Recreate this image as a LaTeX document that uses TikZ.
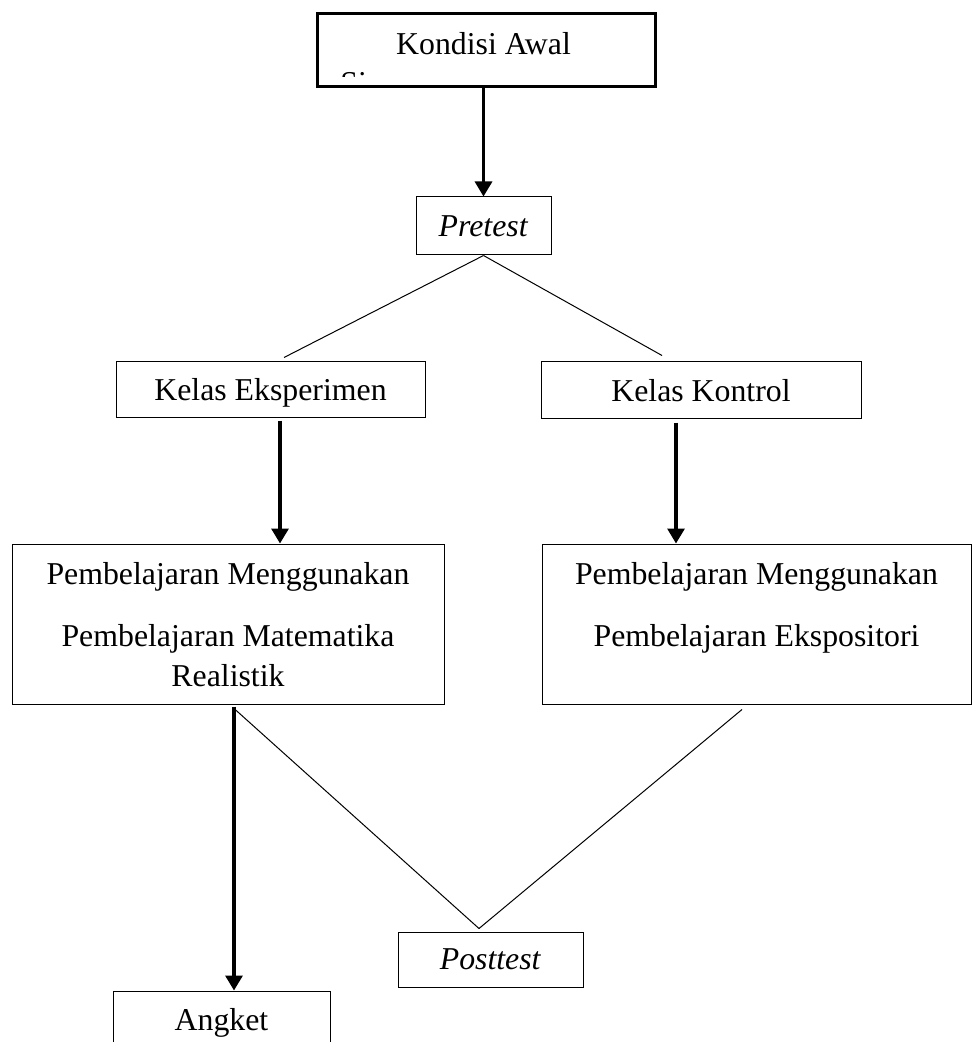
\documentclass[tikz,border=0pt]{standalone}
\usepackage{fontspec}
\setmainfont{Liberation Serif}
\usetikzlibrary{arrows.meta,calc}

\tikzset{
  kotak/.style={draw=black, line width=0.5pt, rectangle, inner sep=0pt, text depth=0pt,
    font=\fontsize{15.9}{20}\selectfont, align=center},
  kotaktebal/.style={kotak, line width=1.5pt},
  panah/.style={line width=1.6pt, -{Triangle[width=8.5pt,length=7.5pt]}},
  garis/.style={line width=0.5pt}
}

\begin{document}
\begin{tikzpicture}[x=0.5pt,y=-0.5pt]
\useasboundingbox (0,0) rectangle (973,1042);
%%% kondisi awal
\node[kotaktebal, minimum width=169pt, minimum height=36.5pt] (awal) at (486,50.5) {};
\node[font=\fontsize{15.9}{20}\selectfont, anchor=base, inner sep=0pt] (awaltxt) at (483.5,55) {Kondisi Awal};
\begin{scope}
\clip (awal.north west) rectangle ($(awal.south east)+(0,-12)$);
\node[font=\fontsize{15.9}{20}\selectfont, anchor=base west, inner sep=0pt] (siswa) at (340,94) {Siswa};
\end{scope}
%%% pretest dan kelas
\node[kotak, minimum width=67.5pt, minimum height=29pt] (pre) at (483.5,226) {\textit{Pretest}};
\node[kotak, minimum width=154.5pt, minimum height=27.5pt] (eks) at (270.5,389.5) {Kelas Eksperimen};
\node[kotak, minimum width=160pt, minimum height=28pt] (kon) at (701,390) {Kelas Kontrol};
%%% pembelajaran
\node[kotak, minimum width=216pt, minimum height=80pt] (pmr) at (228,624)
  {Pembelajaran Menggunakan\\[11pt]Pembelajaran Matematika\\Realistik};
\node[kotak, minimum width=214.5pt, minimum height=80pt] (pme) at (756.5,624)
  {Pembelajaran Menggunakan\\[11pt]Pembelajaran Ekspositori\\\mbox{}};
%%% posttest dan angket
\node[kotak, minimum width=92.5pt, minimum height=27.5pt] (post) at (490.5,959.5) {\textit{Posttest}};
\node[kotak, minimum width=108.5pt, minimum height=28pt] (angket) at (221.5,1019) {Angket};

%%% penghubung
\draw[panah] (pre.north |- awal.south) -- (pre.north);
\draw[garis] (pre.south) -- ($(eks.north)+(13.5,-4)$);
\draw[garis] (pre.south) -- ($(kon.north)+(-39,-6)$);
\coordinate (e1) at ($(eks.south)+(9.5,3)$);
\draw[panah] (e1) -- (e1 |- pmr.north);
\coordinate (k1) at ($(kon.south)+(-25,4)$);
\draw[panah] (k1) -- (k1 |- pme.north);
\coordinate (p1) at ($(pmr.south)+(6,2)$);
\draw[panah] (p1) -- (p1 |- angket.north);
\draw[garis] ($(pmr.south)+(6,4)$) -- ($(post.north)+(-11.5,-3)$);
\draw[garis] ($(pme.south)+(-14.5,5)$) -- ($(post.north)+(-11.5,-3)$);
\end{tikzpicture}
\end{document}
